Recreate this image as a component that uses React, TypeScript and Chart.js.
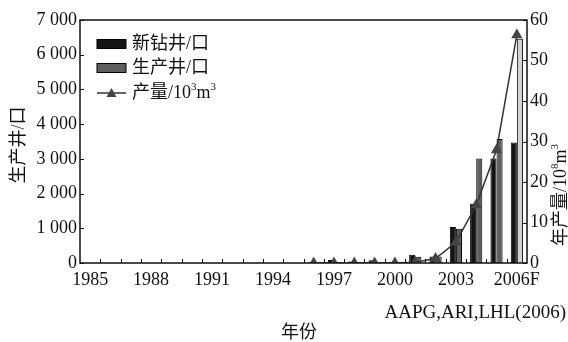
import React, { useEffect, useRef } from 'react';
import { Chart, registerables } from 'chart.js';

Chart.register(...registerables);

const years = ['1985','1986','1987','1988','1989','1990','1991','1992','1993','1994','1995','1996','1997','1998','1999','2000','2001','2002','2003','2004','2005','2006'];
const xTickText: Record<string, string> = { '1985': '1985', '1988': '1988', '1991': '1991', '1994': '1994', '1997': '1997', '2000': '2000', '2003': '2003', '2006': '2006F' };
const newWells = [null,null,null,null,null,null,null,null,null,null,null, 20, 90, 40, 80, 20, 240, 190, 1040, 1710, 3010, 3470];
const prodWells = [null,null,null,null,null,null,null,null,null,null,null, 15, 30, 20, 30, 20, 180, 190, 990, 3010, 3570, 6460];
const production = [null,null,null,null,null,null,null,null,null,null,null, 0, 0, 0, 0, 0, 0.2, 1.1, 5.1, 14.3, 27.9, 56.3];

const SERIF = "'Liberation Serif', 'Noto Sans CJK SC', serif";
const INK = '#111';
const BLACK_FILL = '#141414';
const GRAY_FILL = '#5e5e5e';
const LIGHT_FILL = '#d2d2d2';

type Part = { t: string; sup?: boolean };

function richWidth(ctx: CanvasRenderingContext2D, parts: Part[], size: number) {
  let w = 0;
  for (const p of parts) {
    ctx.font = `${p.sup ? Math.round(size * 0.6) : size}px ${SERIF}`;
    w += ctx.measureText(p.t).width;
  }
  return w;
}

function drawRich(ctx: CanvasRenderingContext2D, parts: Part[], x: number, y: number, size: number) {
  let cx = x;
  ctx.textBaseline = 'middle';
  ctx.textAlign = 'left';
  for (const p of parts) {
    const s = p.sup ? Math.round(size * 0.6) : size;
    ctx.font = `${s}px ${SERIF}`;
    ctx.fillText(p.t, cx, p.sup ? y - size * 0.3 : y);
    cx += ctx.measureText(p.t).width;
  }
}

const decor = {
  id: 'decor',
  afterDraw(chart: any) {
    const { ctx, chartArea: a, scales } = chart;
    ctx.save();
    ctx.strokeStyle = INK;
    ctx.lineWidth = 1.5;
    ctx.strokeRect(a.left, a.top, a.right - a.left, a.bottom - a.top);
    ctx.lineWidth = 1;
    ctx.beginPath();
    scales.y.ticks.forEach((_t: any, i: number) => {
      const y = Math.round(scales.y.getPixelForTick(i)) + 0.5;
      ctx.moveTo(a.left, y); ctx.lineTo(a.left + 4, y);
    });
    scales.y1.ticks.forEach((_t: any, i: number) => {
      const y = Math.round(scales.y1.getPixelForTick(i)) + 0.5;
      ctx.moveTo(a.right, y); ctx.lineTo(a.right - 4, y);
    });
    for (let i = 1; i < years.length; i++) {
      const x = Math.round((scales.x.getPixelForValue(i - 1) + scales.x.getPixelForValue(i)) / 2) + 0.5;
      ctx.moveTo(x, a.bottom); ctx.lineTo(x, a.bottom - 4);
    }
    ctx.stroke();

    // legend
    ctx.fillStyle = INK;
    const lx = 97, lw = 29, tx = 132;
    const rows = [44, 68, 93];
    ctx.fillStyle = BLACK_FILL; ctx.fillRect(lx, rows[0] - 4.5, lw, 9);
    ctx.strokeStyle = '#000'; ctx.strokeRect(lx, rows[0] - 4.5, lw, 9);
    ctx.fillStyle = GRAY_FILL; ctx.fillRect(lx, rows[1] - 4.5, lw, 9);
    ctx.strokeRect(lx, rows[1] - 4.5, lw, 9);
    ctx.strokeStyle = '#333'; ctx.lineWidth = 1.5;
    ctx.beginPath(); ctx.moveTo(lx, rows[2]); ctx.lineTo(lx + lw, rows[2]); ctx.stroke();
    ctx.fillStyle = '#444';
    ctx.beginPath();
    ctx.moveTo(lx + lw / 2, rows[2] - 5); ctx.lineTo(lx + lw / 2 + 5, rows[2] + 4); ctx.lineTo(lx + lw / 2 - 5, rows[2] + 4); ctx.closePath(); ctx.fill();
    ctx.fillStyle = INK;
    drawRich(ctx, [{ t: '新钻井/口' }], tx, rows[0], 18);
    drawRich(ctx, [{ t: '生产井/口' }], tx, rows[1], 18);
    drawRich(ctx, [{ t: '产量/10' }, { t: '3', sup: true }, { t: 'm' }, { t: '3', sup: true }], tx, rows[2], 18);

    // axis titles
    const leftTitle: Part[] = [{ t: '生产井/口' }];
    const lwid = richWidth(ctx, leftTitle, 18);
    ctx.save(); ctx.translate(19, 145); ctx.rotate(-Math.PI / 2);
    drawRich(ctx, leftTitle, -lwid / 2, 0, 18); ctx.restore();

    const rightTitle: Part[] = [{ t: '年产量/10' }, { t: '8', sup: true }, { t: 'm' }, { t: '3', sup: true }];
    const rwid = richWidth(ctx, rightTitle, 18);
    ctx.save(); ctx.translate(561, 195); ctx.rotate(-Math.PI / 2);
    drawRich(ctx, rightTitle, -rwid / 2, 0, 18); ctx.restore();

    ctx.font = `18px ${SERIF}`;
    ctx.textAlign = 'center'; ctx.textBaseline = 'middle';
    ctx.fillText('年份', 299, 333);
    ctx.font = `19px ${SERIF}`;
    ctx.textAlign = 'right';
    ctx.fillText('AAPG,ARI,LHL(2006)', 566, 313);
    ctx.restore();
  },
};

function fmtThousands(v: number) {
  if (v < 1000) return String(v);
  const s = String(v);
  return s.slice(0, s.length - 3) + ' ' + s.slice(-3);
}

export default function App() {
  const ref = useRef<HTMLCanvasElement | null>(null);
  useEffect(() => {
    if (!ref.current) return;
    const chart = new Chart(ref.current, {
      type: 'bar',
      data: {
        labels: years,
        datasets: [
          {
            type: 'line',
            label: '产量/10³m³',
            data: production,
            yAxisID: 'y1',
            borderColor: '#333',
            borderWidth: 1.5,
            backgroundColor: '#444',
            pointStyle: 'triangle',
            pointRadius: 5,
            pointBackgroundColor: '#444',
            pointBorderColor: '#444',
            order: 0,
          } as any,
          {
            label: '新钻井/口',
            data: newWells,
            yAxisID: 'y',
            backgroundColor: BLACK_FILL,
            borderColor: '#000',
            borderWidth: 1,
            categoryPercentage: 0.6,
            barPercentage: 1.0,
            order: 1,
          },
          {
            label: '生产井/口',
            data: prodWells,
            yAxisID: 'y',
            backgroundColor: prodWells.map((_v, i) => (i === prodWells.length - 1 ? LIGHT_FILL : GRAY_FILL)),
            borderColor: '#000',
            borderWidth: 1,
            categoryPercentage: 0.6,
            barPercentage: 1.0,
            order: 1,
          },
        ],
      },
      options: {
        responsive: false,
        animation: false,
        devicePixelRatio: 1,
        layout: { padding: { top: 20, left: 0, right: 0, bottom: 0 } },
        plugins: { legend: { display: false }, tooltip: { enabled: false } },
        scales: {
          x: {
            offset: true,
            grid: { display: false, drawTicks: false },
            border: { display: false },
            ticks: {
              autoSkip: false,
              maxRotation: 0,
              padding: 6,
              color: INK,
              font: { family: SERIF, size: 18 },
              callback: (_v: any, i: number) => xTickText[years[i]] ?? '',
            },
            afterFit: (s: any) => { s.height = 79; },
          },
          y: {
            position: 'left',
            min: 0,
            max: 7000,
            grid: { display: false, drawTicks: false },
            border: { display: false },
            ticks: {
              stepSize: 1000,
              padding: 3,
              color: INK,
              font: { family: SERIF, size: 18 },
              callback: (v: any) => fmtThousands(Number(v)),
            },
            afterFit: (s: any) => { s.width = 80; },
          },
          y1: {
            position: 'right',
            min: 0,
            max: 60,
            grid: { display: false, drawTicks: false },
            border: { display: false },
            ticks: {
              stepSize: 10,
              padding: 3,
              color: INK,
              font: { family: SERIF, size: 18 },
            },
            afterFit: (s: any) => { s.width = 41; },
          },
        },
      },
      plugins: [decor],
    });
    return () => chart.destroy();
  }, []);
  return (
    <div style={{ position: 'fixed', left: 0, top: 0, width: 568, height: 342, background: '#fff' }}>
      <canvas ref={ref} width={568} height={342} style={{ width: 568, height: 342 }} />
    </div>
  );
}
